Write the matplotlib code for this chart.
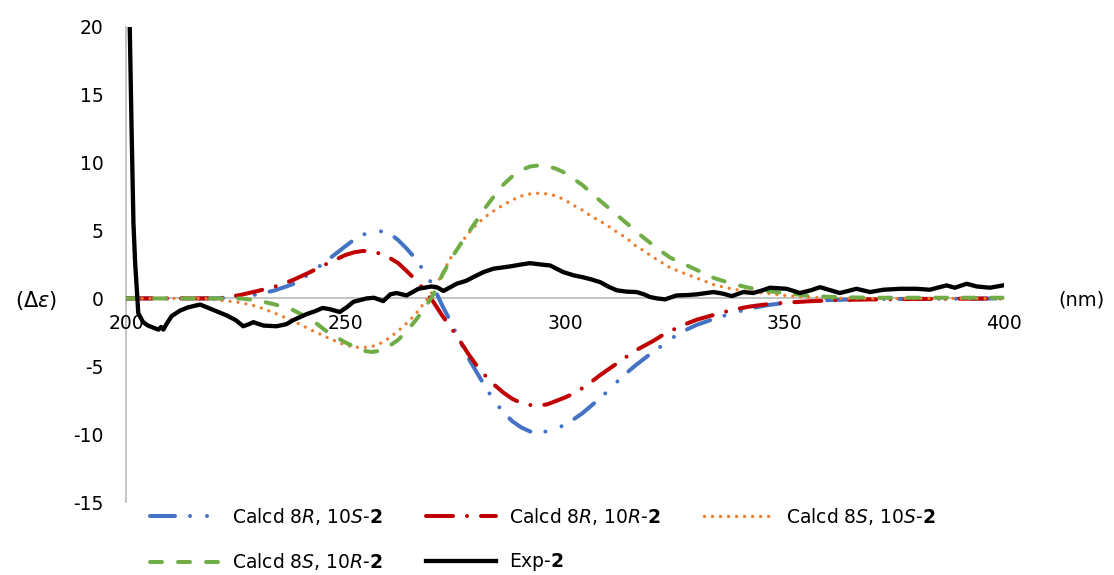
import matplotlib
matplotlib.use("Agg")
import matplotlib.pyplot as plt

plt.rcParams['font.family'] = ['DejaVu Sans']
plt.rcParams['axes.unicode_minus'] = False
plt.rcParams['mathtext.fontset'] = 'dejavusans'
plt.rcParams['lines.scale_dashes'] = False

# ---------------- data ----------------
wl_calc = [200, 210, 218, 222, 226, 230, 234, 238, 242, 246, 250, 252, 254, 256, 258,
           260, 262, 264, 266, 268, 270, 272, 274, 276, 278, 280, 282, 284, 286, 288,
           290, 292, 294, 296, 298, 300, 302, 304, 306, 308, 310, 312, 314, 316, 318,
           320, 322, 324, 326, 328, 330, 334, 338, 342, 346, 350, 355, 360, 365, 370,
           380, 390, 400]

calcd_8R_10S = [0, 0, 0, 0.02, 0.1, 0.3, 0.6, 1.05, 1.85, 2.85, 3.85, 4.35, 4.7, 4.9, 4.95,
                4.8, 4.3, 3.65, 2.9, 1.95, 0.9, -0.5, -1.75, -3.1, -4.4, -5.5, -6.6, -7.6, -8.4, -9.05,
                -9.5, -9.8, -9.85, -9.8, -9.6, -9.3, -8.9, -8.45, -7.9, -7.35, -6.75, -6.1, -5.5, -4.95, -4.45,
                -3.95, -3.5, -3.0, -2.6, -2.25, -1.95, -1.5, -1.1, -0.75, -0.5, -0.33, -0.2, -0.12, -0.08, -0.05,
                -0.03, -0.02, 0]

calcd_8R_10R = [0, 0, 0, 0.05, 0.25, 0.55, 0.88, 1.35, 1.95, 2.6, 3.2, 3.4, 3.5, 3.45, 3.3,
                3.0, 2.6, 2.0, 1.35, 0.6, -0.25, -1.25, -2.15, -3.1, -4.1, -5.0, -5.75, -6.4, -6.95, -7.4,
                -7.7, -7.85, -7.9, -7.8, -7.55, -7.3, -7.0, -6.6, -6.15, -5.65, -5.2, -4.75, -4.3, -3.85, -3.5,
                -3.15, -2.75, -2.4, -2.1, -1.82, -1.57, -1.2, -0.85, -0.6, -0.43, -0.32, -0.22, -0.15, -0.1, -0.07,
                -0.04, -0.02, 0]

calcd_8S_10S = [0, 0, 0, -0.15, -0.3, -0.6, -1.1, -1.65, -2.3, -2.9, -3.45, -3.58, -3.62, -3.55, -3.3,
                -2.9, -2.4, -1.8, -1.15, -0.3, 0.6, 1.8, 3.0, 3.95, 4.8, 5.5, 6.05, 6.5, 6.9, 7.25,
                7.55, 7.7, 7.75, 7.7, 7.55, 7.25, 6.85, 6.5, 6.05, 5.7, 5.3, 4.85, 4.45, 3.9, 3.5,
                3.05, 2.65, 2.25, 2.0, 1.75, 1.5, 1.0, 0.7, 0.5, 0.37, 0.22, 0.08, 0.03, 0.01, 0,
                0, 0, 0]

calcd_8S_10R = [0, 0, 0, 0, 0, -0.15, -0.45, -0.85, -1.5, -2.5, -3.25, -3.55, -3.85, -3.95, -3.85,
                -3.5, -3.05, -2.4, -1.6, -0.75, 0.3, 1.7, 2.9, 3.9, 4.85, 5.8, 6.75, 7.6, 8.4, 9.0,
                9.45, 9.72, 9.8, 9.75, 9.55, 9.25, 8.8, 8.35, 7.75, 7.2, 6.65, 6.1, 5.55, 5.0, 4.45,
                3.95, 3.45, 3.0, 2.7, 2.4, 2.1, 1.5, 1.08, 0.78, 0.55, 0.4, 0.22, 0.12, 0.08, 0.05,
                0.05, 0.05, 0.05]

wl_exp = [200.8, 201.3, 201.7, 202.1, 202.4, 202.8, 203.9, 205.0, 206.2, 207.4, 208.0, 208.5,
          209.2, 210.4, 212.3, 214.2, 216.9, 219.9, 222.9, 225.0, 226.7, 228.0, 229.0, 231.3,
          234.3, 236.5, 238.1, 241.2, 243.0, 244.8, 246.5, 248.7, 250.5, 251.8, 254.8, 256.5,
          258.6, 260.2, 261.6, 263.9, 266.6, 269.6, 271.0, 272.3, 275.3, 277.5, 279.1, 281.5,
          283.7, 287.5, 290.0, 292.0, 294.5, 296.6, 299.6, 302.0, 304.2, 306.0, 308.0, 310.0,
          311.8, 314.0, 316.3, 318.0, 319.4, 321.0, 322.8, 325.4, 328.0, 330.0, 333.8, 336.0,
          338.0, 340.6, 342.9, 345.0, 346.7, 350.5, 353.5, 356.0, 358.1, 360.5, 362.6, 364.5,
          366.4, 369.5, 372.5, 376.3, 380.1, 383.1, 386.9, 388.8, 391.5, 393.8, 396.8, 399.8]
exp_2 = [21.0, 12.0, 5.5, 2.5, 1.0, -1.1, -1.75, -2.0, -2.15, -2.3, -2.1, -2.3,
         -1.9, -1.3, -0.9, -0.65, -0.45, -0.85, -1.25, -1.6, -2.05, -1.9, -1.75, -2.0,
         -2.05, -1.9, -1.6, -1.15, -0.95, -0.7, -0.8, -1.0, -0.6, -0.25, 0.0, 0.05,
         -0.2, 0.3, 0.4, 0.22, 0.71, 0.88, 0.8, 0.55, 1.08, 1.3, 1.57, 1.95,
         2.19, 2.36, 2.5, 2.6, 2.5, 2.43, 1.94, 1.7, 1.55, 1.4, 1.2, 0.85,
         0.6, 0.5, 0.47, 0.3, 0.1, 0.0, -0.07, 0.22, 0.25, 0.3, 0.47, 0.35,
         0.17, 0.47, 0.4, 0.6, 0.79, 0.71, 0.4, 0.6, 0.83, 0.6, 0.4, 0.55,
         0.71, 0.47, 0.64, 0.71, 0.71, 0.64, 0.96, 0.79, 1.08, 0.88, 0.79, 0.96]

labels = [r'Calcd 8$\mathit{R}$, 10$\mathit{S}$-$\mathbf{2}$',
          r'Calcd 8$\mathit{R}$, 10$\mathit{R}$-$\mathbf{2}$',
          r'Calcd 8$\mathit{S}$, 10$\mathit{S}$-$\mathbf{2}$',
          r'Calcd 8$\mathit{S}$, 10$\mathit{R}$-$\mathbf{2}$',
          r'Exp-$\mathbf{2}$']
x_ticks = [200, 250, 300, 350, 400]
y_ticks = [-15, -10, -5, 0, 5, 10, 15, 20]

# ---------------- figure ----------------
W, H = 1114, 575
fig = plt.figure(figsize=(W / 100, H / 100), dpi=100)
ax = fig.add_axes([126 / W, 1 - 502 / H, (1004 - 126) / W, (502 - 27) / H])
ax.set_xlim(200, 400)
ax.set_ylim(-15, 20)

px = 0.72  # points per pixel
styles = [
    dict(color='#4472C4', lw=2.9, dashes=[25 * px, 15 * px, 0.01, 17 * px, 0.01, 15 * px]),
    dict(color='#C00000', lw=2.9, dashes=[27 * px, 14 * px, 0.01, 14 * px]),
    dict(color='#ED7D31', lw=2.4, dashes=[0.01, 8 * px]),
    dict(color='#70AD47', lw=2.9, dashes=[12 * px, 16 * px]),
]
series = [calcd_8R_10S, calcd_8R_10R, calcd_8S_10S, calcd_8S_10R]
handles = []
for ys, st, lab in zip(series, styles, labels[:4]):
    ln, = ax.plot(wl_calc, ys, color=st['color'], lw=st['lw'], dashes=st['dashes'],
                  dash_capstyle='round', solid_capstyle='round', label=lab, zorder=3)
    handles.append(ln)
ln, = ax.plot(wl_exp, exp_2, color='black', lw=3.1, label=labels[4], zorder=4,
              solid_joinstyle='round')
handles.append(ln)

for s in ['top', 'right']:
    ax.spines[s].set_visible(False)
ax.spines['bottom'].set_position(('data', 0))
for s in ['left', 'bottom']:
    ax.spines[s].set_color('#BFBFBF')
    ax.spines[s].set_linewidth(1.3)
    ax.spines[s].set_zorder(1)

ax.set_xticks(x_ticks)
ax.set_yticks(y_ticks)
ax.set_xticklabels([str(v) for v in x_ticks])
ax.set_yticklabels([str(v) for v in y_ticks])
ax.tick_params(axis='both', length=0, labelsize=13.5, colors='black')
ax.tick_params(axis='x', pad=11)
ax.tick_params(axis='y', pad=16)
ax.patch.set_visible(False)

fig.text(36 / W, 1 - 300 / H, r'$(\Delta\mathit{\varepsilon})$', ha='center', va='center',
         fontsize=15)
fig.text(1082 / W, 1 - 300 / H, '(nm)', ha='center', va='center', fontsize=14)

order = [0, 3, 1, 4, 2]
fig.legend([handles[i] for i in order], [labels[i] for i in order], ncol=3,
           loc='upper left', bbox_to_anchor=(150 / W, 1 - 506 / H), frameon=False,
           fontsize=13.5, handlelength=3.7, handletextpad=0.7, columnspacing=2.3,
           labelspacing=1.3, borderpad=0, borderaxespad=0)

fig.savefig('out.png', dpi=100)
